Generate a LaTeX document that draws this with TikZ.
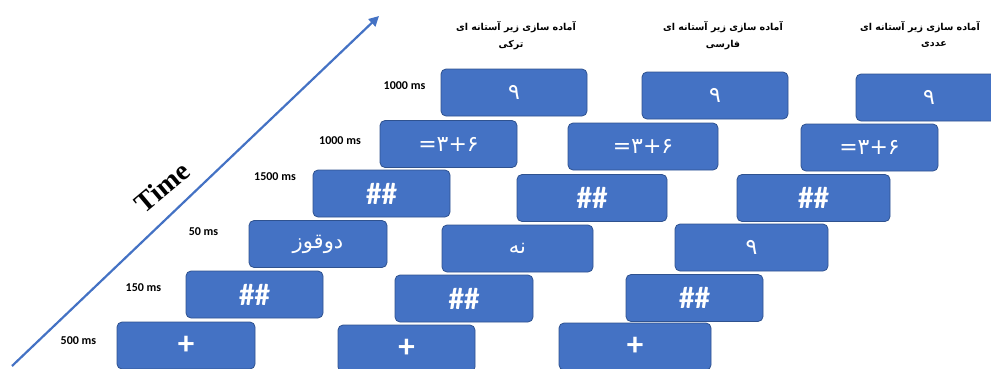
\documentclass[tikz,border=0pt]{standalone}
\usepackage{fontspec}
\usepackage{tikz}
\usetikzlibrary{arrows.meta, positioning}
\TeXXeTstate=1
\definecolor{TrialBlue}{RGB}{68,114,196}
\definecolor{TrialEdge}{RGB}{47,82,143}
\newfontfamily\labelfont{Carlito}
\newfontfamily\arabicfont[Script=Arabic]{DejaVu Sans}
\newfontfamily\digitfont{DejaVu Sans}
\newfontfamily\timefont{Liberation Serif}
\newcommand{\hashes}{{\labelfont\bfseries\fontsize{31}{31}\selectfont\#\#}}
\newcommand{\crossfix}{{\labelfont\bfseries\fontsize{33}{33}\selectfont+}}
\newcommand{\persian}[1]{{\arabicfont\fontsize{21}{21}\selectfont\beginR#1\endR}}
\newcommand{\digits}[1]{{\digitfont\fontsize{22}{22}\selectfont#1}}

\begin{document}
\begin{tikzpicture}[x=1pt, y=-1pt,
	trial/.style={fill=TrialBlue, draw=TrialEdge, line width=0.8pt, rounded corners=5pt,
		minimum height=47pt, inner sep=0pt, text=white, anchor=center},
	dur/.style={font=\labelfont\bfseries\fontsize{12}{12}\selectfont, text=black},
	head/.style={font=\arabicfont\bfseries\fontsize{9.5}{9.5}\selectfont, text=black},
	timeaxis/.style={draw=TrialBlue, line width=2.2pt, -{Triangle[length=10pt, width=10pt]}}]
	\useasboundingbox (0,0) rectangle (991,368);
	\coordinate (t0) at (12,366);
	\coordinate (t1) at (379,16);
	\draw[timeaxis] (t0) -- (t1);
	\node[font=\timefont\bfseries\fontsize{28}{28}\selectfont, rotate=40, inner sep=0pt] (timelabel) at (162,187) {Time};
	\foreach \c/\r/\x/\y/\w/\t in {
		1/1/514/92.5/146/{\digits{۹}},
		1/2/448.5/144/137/{\digits{=۳+۶}},
		1/3/381.5/193.5/137/{\hashes},
		1/4/318/244/138/{\persian{دوقوز}},
		1/5/254.5/294.5/137/{\hashes},
		1/6/186/345.5/138/{\crossfix},
		2/1/715/95.5/146/{\digits{۹}},
		2/2/643/146.5/150/{\digits{=۳+۶}},
		2/3/592/198/150/{\hashes},
		2/4/517.5/248.5/151/{\persian{نه}},
		2/5/464/298.5/138/{\hashes},
		2/6/406.5/348.5/137/{\crossfix},
		3/1/929/97.5/146/{\digits{۹}},
		3/2/869.5/147.5/137/{\digits{=۳+۶}},
		3/3/813.5/198/153/{\hashes},
		3/4/751.5/247.5/153/{\digits{۹}},
		3/5/694.5/298/137/{\hashes},
		3/6/635/346.5/152/{\crossfix}}{
		\node[trial, minimum width=\w] (b\c\r) at (\x,\y) {\t};
	}
	\foreach \x/\y/\t [count=\i] in {
		404.5/86/1000 ms, 340/141/1000 ms, 275/177/1500 ms,
		203.5/232/50 ms, 143.5/288/150 ms, 78.5/341/500 ms}{
		\node[dur] (d\i) at (\x,\y) {\t};
	}
	\foreach \xa/\xb/\g [count=\i] in {516/511/ترکی, 723/723/فارسی, 920/934/عددی}{
		\node[head] (h\i a) at (\xa,27) {\beginR آماده سازی زیر آستانه ای\endR};
		\node[head] (h\i b) at (\xb,45) {\beginR \g\endR};
	}
\end{tikzpicture}
\end{document}
